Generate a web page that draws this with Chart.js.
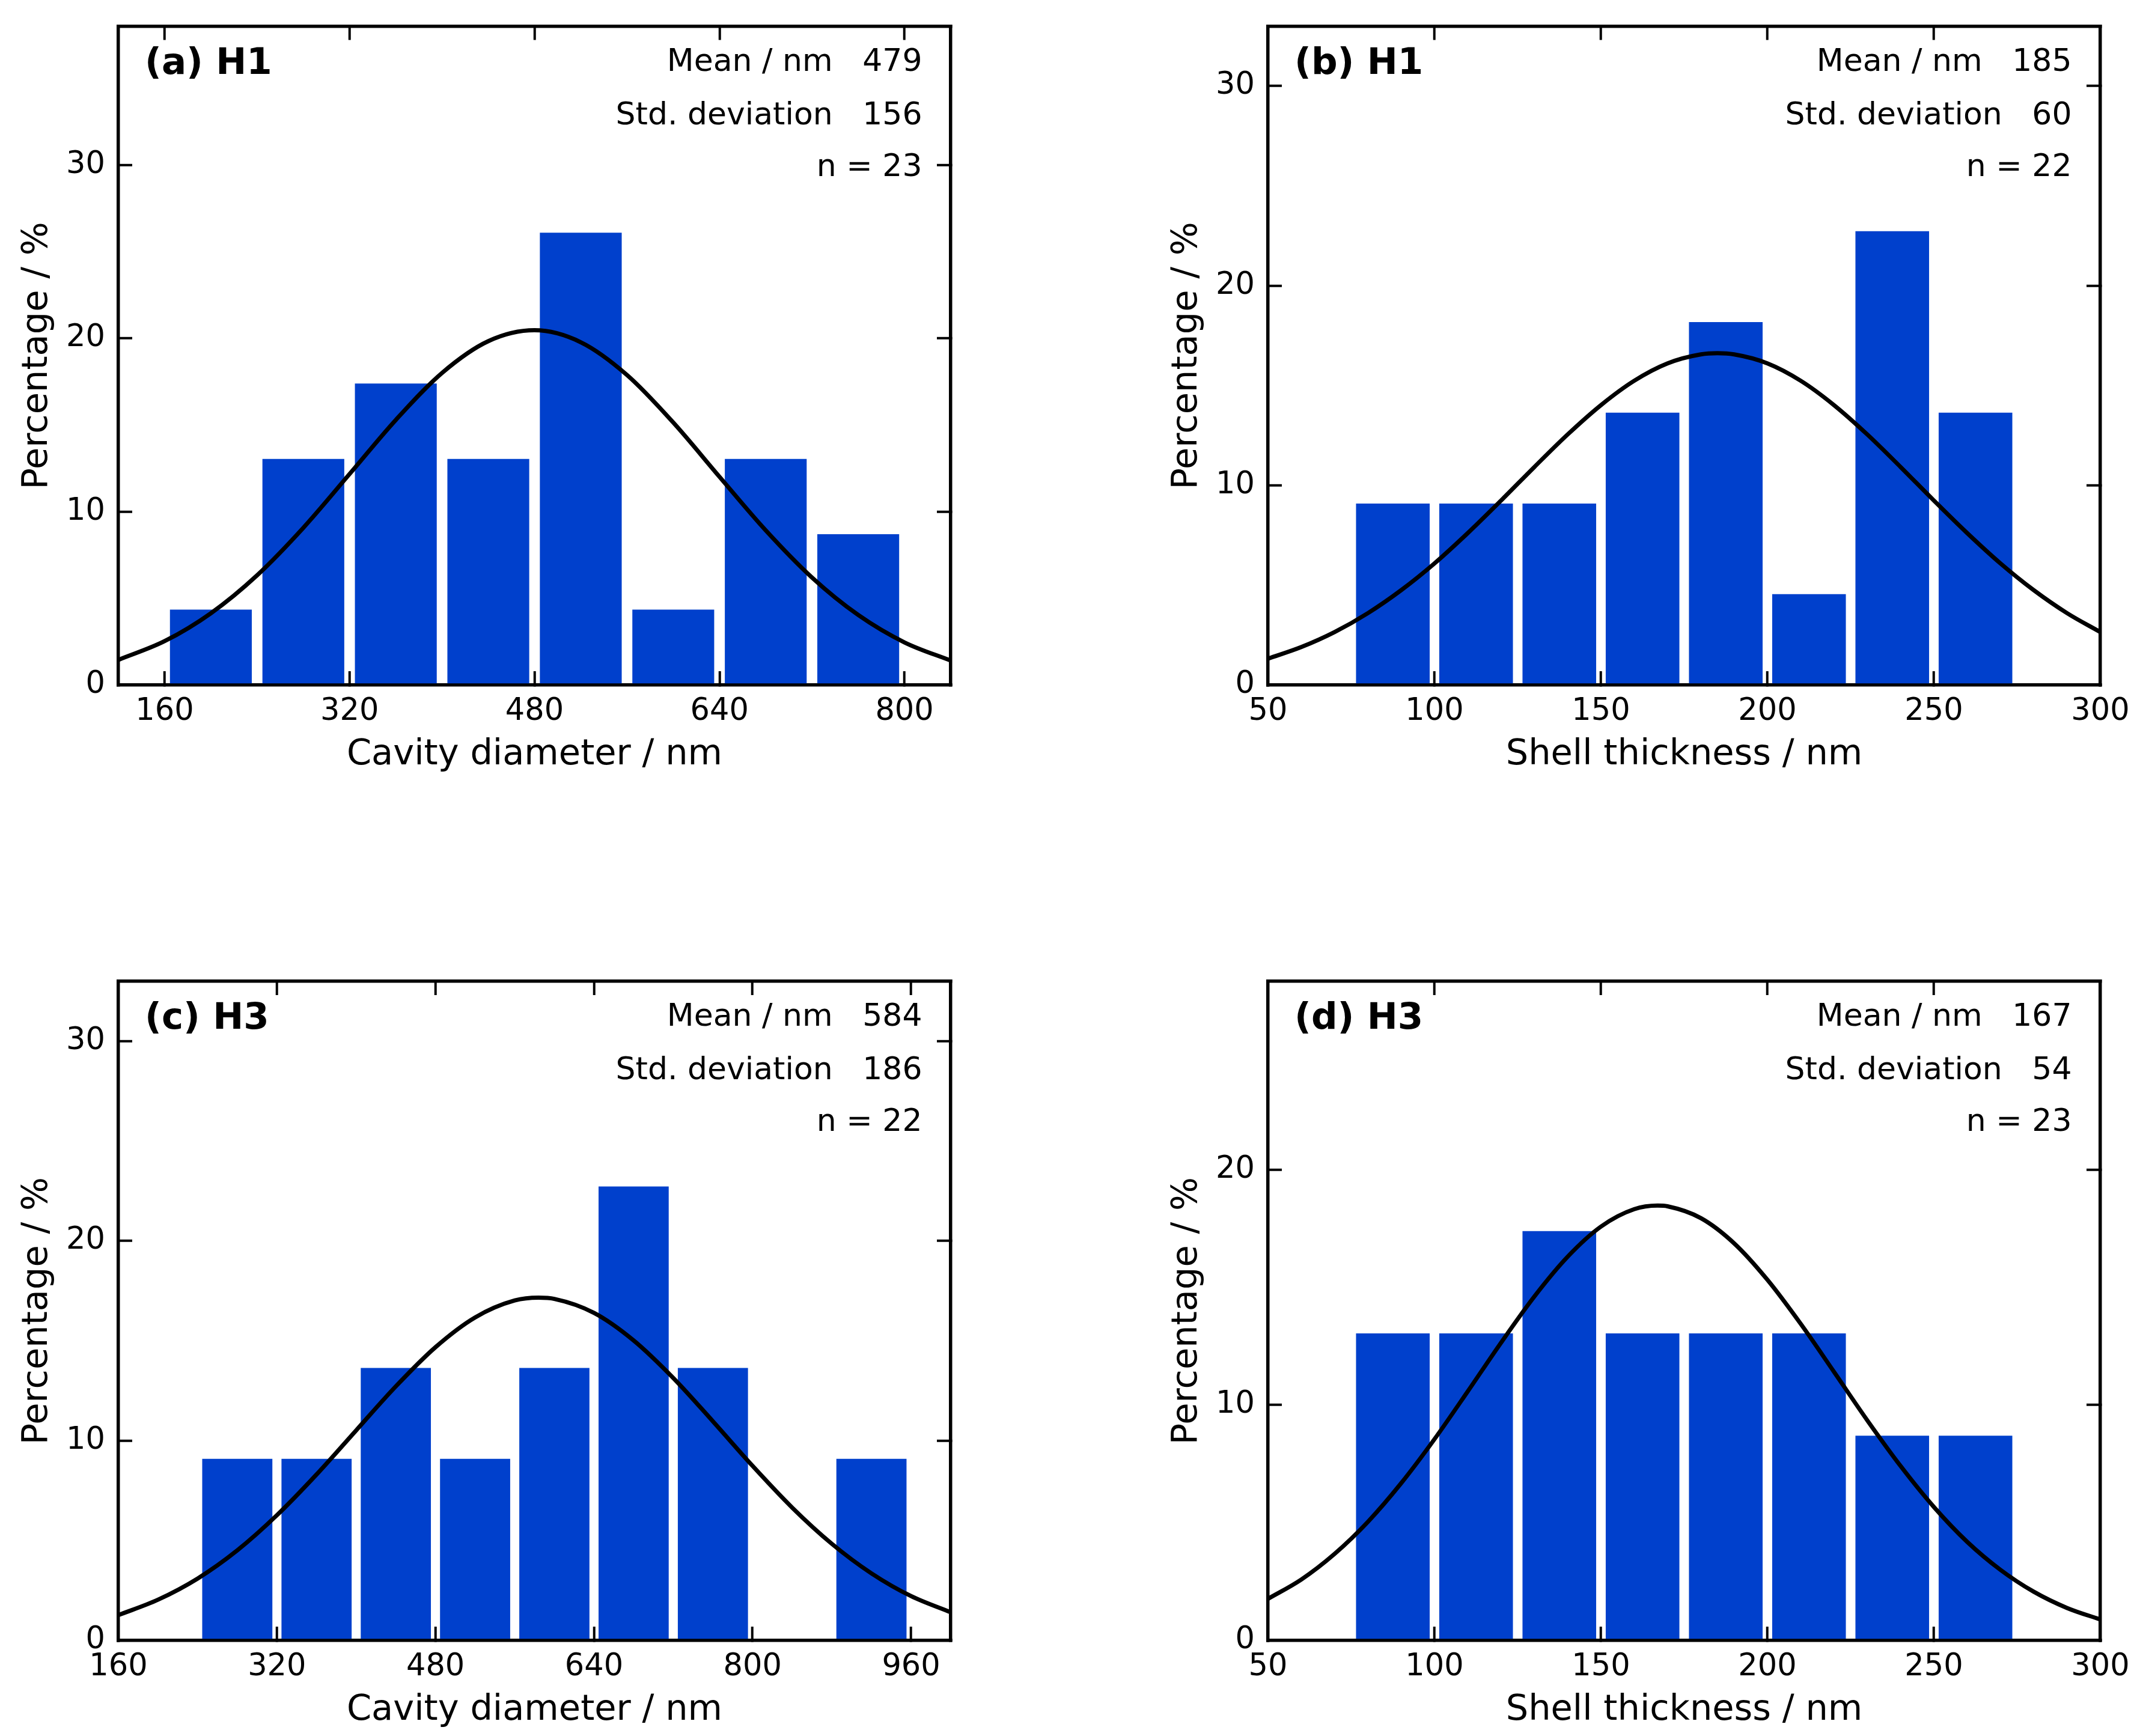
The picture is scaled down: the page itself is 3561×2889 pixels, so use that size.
<!DOCTYPE html>
<html>
<head>
<meta charset="utf-8">
<script src="https://cdn.jsdelivr.net/npm/chart.js@4.4.1/dist/chart.umd.min.js"></script>
<style>
html,body{margin:0;padding:0;background:#fff;overflow:hidden;}
#wrap{position:relative;width:3561px;height:2889px;background:#fff;}
canvas{position:absolute;}
</style>
</head>
<body>
<div id="wrap">
<canvas id="pa" width="1780" height="1299" style="left:0px;top:0px;width:1780px;height:1299px"></canvas>
<canvas id="pb" width="1648" height="1299" style="left:1913px;top:0px;width:1648px;height:1299px"></canvas>
<canvas id="pc" width="1780" height="1299" style="left:0px;top:1590px;width:1780px;height:1299px"></canvas>
<canvas id="pd" width="1648" height="1299" style="left:1913px;top:1590px;width:1648px;height:1299px"></canvas>
</div>
<script>
// ---------------- data ----------------
const panelLabels = ['(a) H1', '(b) H1', '(c) H3', '(d) H3'];
const xTitles = ['Cavity diameter / nm', 'Shell thickness / nm', 'Cavity diameter / nm', 'Shell thickness / nm'];
const yTitle = 'Percentage / %';
const statNames = ['Mean / nm', 'Std. deviation'];
const meanValues = [479, 185, 584, 167];
const sdValues = [156, 60, 186, 54];
const nValues = [23, 22, 22, 23];

// histogram bins (centres) and percentages
const binCentersA = [200, 280, 360, 440, 520, 600, 680, 760];
const percentA = [4.35, 13.04, 17.39, 13.04, 26.09, 4.35, 13.04, 8.70];
const binCentersB = [87.5, 112.5, 137.5, 162.5, 187.5, 212.5, 237.5, 262.5];
const percentB = [9.09, 9.09, 9.09, 13.64, 18.18, 4.55, 22.73, 13.64];
const binCentersC = [280, 360, 440, 520, 600, 680, 760, 840, 920];
const percentC = [9.09, 9.09, 13.64, 9.09, 13.64, 22.73, 13.64, 0, 9.09];
const binCentersD = [87.5, 112.5, 137.5, 162.5, 187.5, 212.5, 237.5, 262.5];
const percentD = [13.04, 13.04, 17.39, 13.04, 13.04, 13.04, 8.70, 8.70];

// fitted normal curves
const curveXA = [120, 160, 200, 240, 280, 320, 360, 400, 440, 480, 520, 560, 600, 640, 680, 720, 760, 800, 840];
const curveYA = [1.45, 2.53, 4.14, 6.33, 9.07, 12.17, 15.29, 18.00, 19.83, 20.46, 19.77, 17.88, 15.14, 12.01, 8.92, 6.20, 4.04, 2.46, 1.41];
const curveXB = [50, 60, 70, 80, 90, 100, 110, 120, 130, 140, 150, 160, 170, 180, 185, 190, 200, 210, 220, 230, 240, 250, 260, 270, 280, 290, 300];
const curveYB = [1.32, 1.90, 2.65, 3.60, 4.75, 6.09, 7.61, 9.24, 10.92, 12.55, 14.02, 15.24, 16.11, 16.56, 16.62, 16.56, 16.11, 15.24, 14.02, 12.55, 10.92, 9.24, 7.61, 6.09, 4.75, 3.60, 2.65];
const curveXC = [160, 200, 240, 280, 320, 360, 400, 440, 480, 520, 560, 584, 600, 640, 680, 720, 760, 800, 840, 880, 920, 960, 1000];
const curveYC = [1.27, 2.04, 3.10, 4.51, 6.27, 8.31, 10.52, 12.72, 14.68, 16.17, 17.02, 17.16, 17.10, 16.40, 15.02, 13.14, 10.97, 8.74, 6.65, 4.84, 3.36, 2.22, 1.41];
const curveXD = [50, 60, 70, 80, 90, 100, 110, 120, 130, 140, 150, 160, 167, 170, 180, 190, 200, 210, 220, 230, 240, 250, 260, 270, 280, 290, 300];
const curveYD = [1.77, 2.59, 3.68, 5.04, 6.68, 8.55, 10.58, 12.65, 14.61, 16.30, 17.58, 18.32, 18.47, 18.44, 17.94, 16.87, 15.32, 13.45, 11.41, 9.35, 7.41, 5.67, 4.19, 3.00, 2.07, 1.38, 0.89];

// axis ranges and tick labels
const xRangeA = [120, 840];
const xRangeB = [50, 300];
const xRangeC = [160, 1000];
const xRangeD = [50, 300];
const yMaxValues = [38, 33, 33, 28];
const xTicksA = [160, 320, 480, 640, 800];
const xTicksB = [50, 100, 150, 200, 250, 300];
const xTicksC = [160, 320, 480, 640, 800, 960];
const xTicksD = [50, 100, 150, 200, 250, 300];
const yTicksA = [0, 10, 20, 30];
const yTicksB = [0, 10, 20, 30];
const yTicksC = [0, 10, 20, 30];
const yTicksD = [0, 10, 20];

// ---------------- drawing ----------------
const FAMILY = '"DejaVu Sans", "Liberation Sans", sans-serif';
const BAR_COLOR = 'rgb(0,64,204)';
const GAP = '\u00a0\u00a0\u00a0';

const annotate = {
  id: 'annotate',
  afterDraw(chart, args, o) {
    const ctx = chart.ctx;
    const {left, top, right} = chart.chartArea;
    const i = o.panel;
    ctx.save();
    ctx.fillStyle = '#000';
    ctx.textBaseline = 'alphabetic';
    ctx.textAlign = 'left';
    ctx.font = 'bold 61px ' + FAMILY;
    ctx.fillText(panelLabels[i], left + 44, top + 79);
    ctx.font = '52px ' + FAMILY;
    ctx.textAlign = 'right';
    ctx.fillText(statNames[0] + GAP + meanValues[i], right - 47.5, top + 74);
    ctx.fillText(statNames[1] + GAP + sdValues[i], right - 47.5, top + 163);
    ctx.fillText('n = ' + nValues[i], right - 47.5, top + 249);
    ctx.restore();
  }
};

function zeroPad(s) {
  s.paddingTop = 0; s.paddingBottom = 0; s.paddingLeft = 0; s.paddingRight = 0;
}

function makePanel(id, i, centers, pct, cx, cy, xRange, xTicks, yTicks, topH) {
  const canvas = document.getElementById(id);
  const W = canvas.width;
  const setTicks = (vals) => (s) => { s.ticks = vals.map(v => ({value: v})); };
  const grid = {
    drawOnChartArea: false, drawTicks: true, tickLength: -23, tickWidth: 4,
    tickColor: '#000', color: '#000', lineWidth: 5.5, offset: false
  };
  const border = {display: true, color: '#000', width: 5.5};
  const tickFont = {family: FAMILY, size: 51};
  const titleFont = {family: FAMILY, size: 59};
  const yMax = yMaxValues[i];

  new Chart(canvas, {
    type: 'bar',
    data: {
      datasets: [
        {
          type: 'line',
          data: cx.map((x, k) => ({x: x, y: cy[k]})),
          borderColor: '#000', borderWidth: 7, pointRadius: 0, pointHoverRadius: 0,
          cubicInterpolationMode: 'monotone', fill: false, order: 0, xAxisID: 'x', yAxisID: 'y'
        },
        {
          type: 'bar',
          data: centers.map((x, k) => ({x: x, y: pct[k]})),
          backgroundColor: BAR_COLOR, borderWidth: 0,
          barPercentage: 0.885, categoryPercentage: 1, order: 1,
          xAxisID: 'x', yAxisID: 'y'
        }
      ]
    },
    options: {
      responsive: false, animation: false, devicePixelRatio: 1,
      layout: {padding: 0},
      events: [],
      plugins: {legend: {display: false}, tooltip: {enabled: false}, annotate: {panel: i}},
      scales: {
        x: {
          type: 'linear', position: 'bottom', min: xRange[0], max: xRange[1], offset: false,
          grid: grid, border: border,
          ticks: {font: tickFont, color: '#000', padding: 37.5, autoSkip: false, maxRotation: 0, minRotation: 0},
          afterBuildTicks: setTicks(xTicks),
          afterFit: (s) => { s.height = 159; zeroPad(s); },
          title: {display: true, text: xTitles[i], font: titleFont, color: '#000', padding: {top: 0, bottom: 7}}
        },
        x2: {
          type: 'linear', axis: 'x', position: 'top', min: xRange[0], max: xRange[1], offset: false,
          grid: grid, border: border, ticks: {display: false},
          afterBuildTicks: setTicks(xTicks),
          afterFit: (s) => { s.height = topH; zeroPad(s); }
        },
        y: {
          type: 'linear', position: 'left', min: 0, max: yMax,
          grid: grid, border: border,
          ticks: {font: tickFont, color: '#000', padding: 45},
          afterBuildTicks: setTicks(yTicks),
          afterFit: (s) => { s.width = 197; zeroPad(s); },
          title: {display: true, text: yTitle, font: titleFont, color: '#000', padding: {top: 27.5, bottom: 0}}
        },
        y2: {
          type: 'linear', axis: 'y', position: 'right', min: 0, max: yMax,
          grid: grid, border: border, ticks: {display: false},
          afterBuildTicks: setTicks(yTicks),
          afterFit: (s) => { s.width = W - 197 - 1385; zeroPad(s); }
        }
      }
    },
    plugins: [annotate]
  });
}

makePanel('pa', 0, binCentersA, percentA, curveXA, curveYA, xRangeA, xTicksA, yTicksA, 43.5);
makePanel('pb', 1, binCentersB, percentB, curveXB, curveYB, xRangeB, xTicksB, yTicksB, 43.5);
makePanel('pc', 2, binCentersC, percentC, curveXC, curveYC, xRangeC, xTicksC, yTicksC, 43);
makePanel('pd', 3, binCentersD, percentD, curveXD, curveYD, xRangeD, xTicksD, yTicksD, 43);
</script>
</body>
</html>
